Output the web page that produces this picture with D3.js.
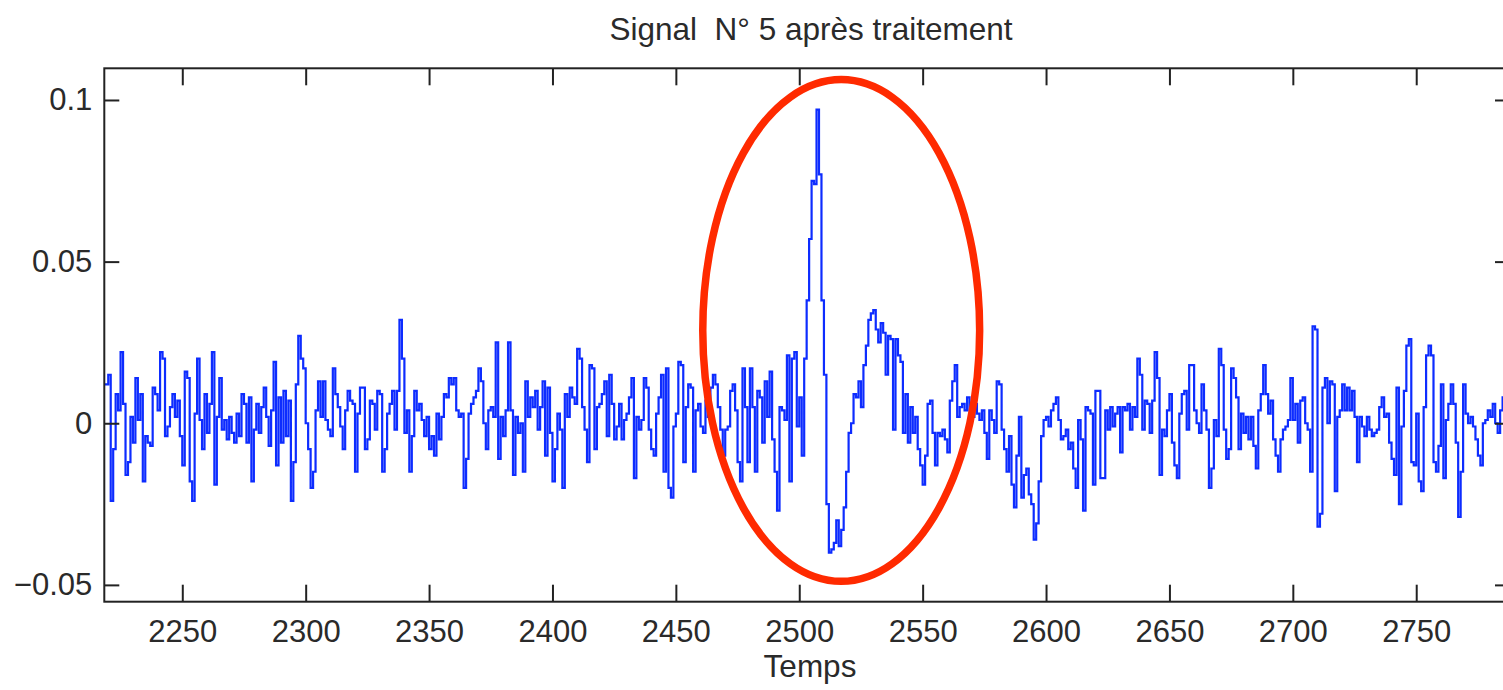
<!DOCTYPE html>
<html><head><meta charset="utf-8">
<script src="https://cdn.jsdelivr.net/npm/d3@7"></script>
<style>body{margin:0;background:#fff;} svg{display:block}</style>
</head><body>
<svg id="chart" width="1503" height="690"></svg>
<script>
const chartTitle = "Signal  N° 5 après traitement";
const xLabel = "Temps";
const xTicks = [2250, 2300, 2350, 2400, 2450, 2500, 2550, 2600, 2650, 2700, 2750];
const yTicks = [-0.05, 0, 0.05, 0.1];
const yTickLabels = ["\u22120.05", "0", "0.05", "0.1"];
const xDomain = [2218.4, 2788];
const yDomain = [-0.0552, 0.1098];
const startTime = 2219;
const signal = [
0.012,0.015,-0.024,-0.008,0.009,0.004,0.022,0.006,-0.016,-0.012,
0.002,-0.006,0.014,0.001,0.009,-0.018,-0.004,-0.006,-0.007,0.011,
0.009,0.004,0.022,0.020,-0.004,-0.001,0.005,0.009,0.002,0.007,
-0.004,-0.013,0.016,0.014,-0.018,-0.024,0.003,0.020,0.001,-0.008,
0.009,-0.003,0.006,0.022,-0.019,0.002,0.014,-0.002,0.001,-0.005,
0.002,-0.003,-0.006,0.003,-0.004,0.009,0.006,-0.006,0.008,-0.018,
-0.002,0.006,-0.003,0.005,0.011,0.002,-0.007,0.004,0.019,-0.013,
0.008,-0.006,0.010,-0.004,0.007,-0.024,-0.012,0.012,0.027,0.020,
0.017,0.000,-0.008,-0.020,-0.015,0.004,0.013,0.002,0.013,0.001,
-0.002,-0.004,0.017,0.009,0.005,-0.001,-0.008,0.004,
0.010,0.007,0.006,-0.015,0.003,0.011,0.011,-0.008,-0.005,0.007,
0.006,-0.002,0.010,0.009,-0.015,-0.008,0.003,0.006,0.010,-0.002,
0.010,0.032,0.020,-0.003,0.004,-0.015,-0.004,0.010,0.004,0.006,
0.001,-0.004,0.002,-0.008,-0.004,-0.010,0.003,-0.005,0.002,0.009,
0.008,0.014,0.012,0.014,0.004,0.002,0.003,-0.020,-0.011,0.003,
0.006,0.008,0.010,0.017,0.013,0.000,-0.008,0.004,0.005,0.002,
0.025,-0.011,0.002,-0.004,0.004,0.025,0.004,-0.016,0.002,-0.003,
0.000,-0.015,0.013,0.002,0.008,0.005,0.010,-0.002,0.005,0.013,
-0.010,0.011,-0.003,-0.018,-0.008,0.003,-0.002,-0.020,0.009,0.002,
0.011,0.008,0.006,0.023,0.020,
0.005,-0.002,-0.012,0.018,0.017,-0.008,0.005,0.006,0.009,0.013,
-0.004,0.015,0.006,-0.005,-0.001,0.006,-0.005,0.001,0.003,0.008,
0.014,-0.017,0.002,-0.002,0.001,0.014,0.011,-0.002,-0.008,-0.010,
0.003,0.008,0.015,-0.015,0.017,-0.020,-0.023,-0.001,0.003,0.019,
0.018,-0.012,0.005,0.012,0.011,-0.015,0.004,0.006,-0.001,-0.003,
0.007,0.002,0.011,0.015,0.012,0.005,-0.002,-0.010,-0.002,-0.001,
0.010,0.012,0.004,-0.012,-0.018,0.017,0.005,-0.012,0.017,0.005,
-0.015,0.010,0.008,-0.006,0.013,0.002,0.016,-0.005,-0.015,-0.027,
0.005,0.004,0.001,0.021,-0.018,0.020,0.022,-0.001,0.008,-0.010,
0.020,
0.038,0.057,0.075,0.074,0.097,0.077,0.038,0.015,-0.025,-0.040,
-0.039,-0.037,-0.030,-0.038,-0.033,-0.026,-0.015,-0.003,0.000,0.009,
0.008,0.013,0.005,0.018,0.024,0.032,0.034,0.035,0.029,0.025,
0.031,0.028,0.015,0.027,0.026,-0.002,0.026,0.021,0.019,-0.003,
0.009,-0.006,0.005,-0.003,0.002,-0.008,-0.013,-0.019,-0.010,0.006,
0.007,-0.003,-0.013,-0.003,-0.004,-0.002,-0.005,-0.009,0.007,0.013,
0.018,0.002,0.005,0.006,0.004,0.008,0.004,0.002,0.006,0.003,
0.001,0.004,-0.003,-0.011,0.004,0.001,-0.003,0.013,
0.012,-0.002,-0.008,-0.015,-0.004,-0.019,-0.026,-0.010,0.002,-0.023,
-0.016,-0.014,-0.022,-0.025,-0.036,-0.031,-0.018,-0.004,0.001,0.002,
-0.001,0.004,0.006,0.008,0.001,-0.005,-0.004,-0.002,-0.008,-0.006,
-0.014,-0.020,0.001,-0.005,-0.027,0.005,0.004,0.003,-0.019,0.010,
0.010,-0.017,-0.017,0.004,-0.002,0.005,-0.001,0.003,0.005,-0.009,
0.005,0.004,0.006,-0.002,0.005,0.002,0.020,0.015,-0.002,0.007,
0.006,-0.003,0.007,0.022,0.014,-0.016,-0.002,-0.004,0.004,0.009,
-0.006,-0.013,-0.017,0.003,0.009,0.010,-0.002,0.018,0.018,0.004,
0.000,-0.003,0.012,0.004,-0.002,-0.020,-0.014,0.001,-0.004,0.023,
0.018,-0.002,-0.011,-0.008,0.017,0.014,0.008,-0.008,0.003,-0.003,
0.002,-0.005,0.002,-0.007,-0.014,0.004,0.009,0.018,0.009,0.003,
0.007,-0.005,-0.010,-0.015,-0.005,-0.002,-0.001,0.001,0.014,0.001,
0.006,-0.006,0.007,0.008,0.000,-0.002,-0.015,0.030,0.029,-0.032,
-0.028,0.011,0.014,0.000,0.013,0.012,-0.021,0.002,0.004,0.012,
0.004,0.011,0.004,0.010,0.002,-0.012,0.002,-0.001,-0.004,0.002,
-0.002,-0.004,-0.003,-0.002,0.005,0.008,0.002,0.003,-0.006,-0.011,
-0.016,0.011,-0.025,-0.001,0.010,0.024,0.026,-0.012,-0.013,0.003,
-0.018,-0.021,0.005,0.021,0.024,0.021,-0.012,-0.015,-0.007,0.012,
-0.017,0.001,0.006,0.012,0.006,-0.006,-0.029,-0.015,0.012,0.003,
0.000,0.002,-0.001,-0.005,-0.010,-0.013,0.000,0.001,0.004,0.002,
0.006,0.000,-0.003,0.004,0.008,-0.002
];
const highlightCenter = [2517, 0.0287];
const highlightRadii = [56.1, 0.0776];

const svg = d3.select("#chart");
const margin = {left: 104.3, top: 68.3, right: 1510, bottom: 601.7};
const x = d3.scaleLinear().domain(xDomain).range([margin.left, margin.right]);
const y = d3.scaleLinear().domain(yDomain).range([margin.bottom, margin.top]);
const font = "'Liberation Sans', Arial, Helvetica, sans-serif";
const axisColor = "#222";
const textColor = "#2a2a2a";

svg.append("defs").append("clipPath").attr("id", "plotclip")
  .append("rect").attr("x", margin.left).attr("y", margin.top)
  .attr("width", margin.right - margin.left).attr("height", margin.bottom - margin.top);

// signal as stairs
const pts = [[xDomain[0], signal[0]]].concat(signal.map((v, i) => [startTime + i, v]));
const line = d3.line().x(d => x(d[0])).y(d => y(d[1])).curve(d3.curveStepAfter);
svg.append("path").datum(pts)
  .attr("clip-path", "url(#plotclip)")
  .attr("fill", "none").attr("stroke", "#0d2cff").attr("stroke-width", 2.2)
  .attr("stroke-linejoin", "miter")
  .attr("d", line);

// axes
function styleAxis(g) {
  g.select(".domain").remove();
  g.selectAll(".tick line").attr("stroke", axisColor).attr("stroke-width", 2);
  g.selectAll("text").attr("fill", textColor).style("font-family", font).style("font-size", "31px");
}
svg.append("g").attr("transform", `translate(0,${margin.bottom})`)
  .call(d3.axisBottom(x).tickValues(xTicks).tickFormat(d3.format("d")).tickSize(-17).tickSizeOuter(0).tickPadding(18))
  .call(styleAxis);
svg.append("g").attr("transform", `translate(0,${margin.top})`)
  .call(d3.axisTop(x).tickValues(xTicks).tickFormat("").tickSize(-17).tickSizeOuter(0))
  .call(styleAxis);
svg.append("g").attr("transform", `translate(${margin.left},0)`)
  .call(d3.axisLeft(y).tickValues(yTicks).tickFormat((d, i) => yTickLabels[i]).tickSize(-15).tickSizeOuter(0).tickPadding(12))
  .call(styleAxis);
svg.append("g").attr("transform", `translate(${margin.right},0)`)
  .call(d3.axisRight(y).tickValues(yTicks).tickFormat("").tickSize(-15).tickSizeOuter(0))
  .call(styleAxis);

// frame
svg.append("rect").attr("x", margin.left).attr("y", margin.top)
  .attr("width", margin.right - margin.left).attr("height", margin.bottom - margin.top)
  .attr("fill", "none").attr("stroke", axisColor).attr("stroke-width", 2);

// title and label
svg.append("text").attr("x", 811).attr("y", 40).attr("text-anchor", "middle")
  .style("font-family", font).style("font-size", "31.5px").attr("fill", textColor)
  .style("white-space", "pre").text(chartTitle);
svg.append("text").attr("x", 810).attr("y", 677).attr("text-anchor", "middle")
  .style("font-family", font).style("font-size", "31.5px").attr("fill", textColor)
  .text(xLabel);

// highlight ellipse
svg.append("ellipse")
  .attr("cx", x(highlightCenter[0])).attr("cy", y(highlightCenter[1]))
  .attr("rx", x(highlightCenter[0] + highlightRadii[0]) - x(highlightCenter[0]))
  .attr("ry", y(highlightCenter[1]) - y(highlightCenter[1] + highlightRadii[1]))
  .attr("fill", "none").attr("stroke", "#ff2a00").attr("stroke-width", 7.5);
</script>
</body></html>
